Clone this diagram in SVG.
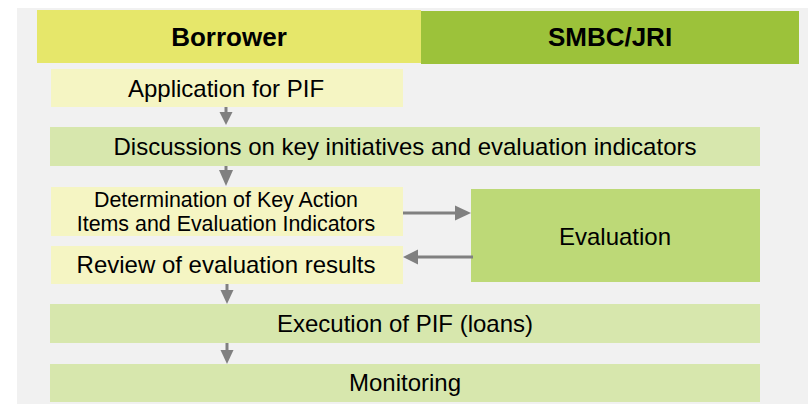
<svg xmlns="http://www.w3.org/2000/svg" width="808" height="404" viewBox="0 0 808 404">
  <defs>
    <style>
      .t { font-family: "Liberation Sans", Arial, sans-serif; fill: #000; text-anchor: middle; }
      .h { font-size: 26px; font-weight: bold; }
      .m { font-size: 24px; }
      .s { font-size: 21.4px; }
      .yl { fill: #f5f5c3; }
      .gl { fill: #d7e7ad; }
      .ln { stroke: #808080; stroke-width: 3; fill: none; }
      .ah { fill: #808080; }
    </style>
  </defs>
  <rect x="0" y="0" width="808" height="404" fill="#ffffff"/>
  <rect x="17" y="8" width="791" height="396" fill="#f1f1f1"/>

  <g id="header-borrower">
    <rect x="37" y="10" width="384" height="53" fill="#e6e76a"/>
    <text class="t h" x="229" y="46">Borrower</text>
  </g>
  <g id="header-smbc">
    <rect x="421" y="11" width="378" height="53" fill="#9cc23a"/>
    <text class="t h" x="610" y="46">SMBC/JRI</text>
  </g>

  <g id="application">
    <rect class="yl" x="51" y="69" width="352" height="38"/>
    <text class="t m" x="226" y="97">Application for PIF</text>
  </g>
  <g id="discussions">
    <rect class="gl" x="50" y="127" width="710" height="39"/>
    <text class="t m" x="405" y="155">Discussions on key initiatives and evaluation indicators</text>
  </g>
  <g id="determination">
    <rect class="yl" x="51" y="187" width="352" height="49"/>
    <text class="t s" x="226" y="207">Determination of Key Action</text>
    <text class="t s" x="226" y="231">Items and Evaluation Indicators</text>
  </g>
  <g id="review">
    <rect class="yl" x="51" y="246" width="352" height="38"/>
    <text class="t m" x="226" y="273">Review of evaluation results</text>
  </g>
  <g id="evaluation">
    <rect x="471" y="189" width="289" height="93" fill="#bdd977"/>
    <text class="t m" x="615" y="245">Evaluation</text>
  </g>
  <g id="execution">
    <rect class="gl" x="50" y="304" width="710" height="39"/>
    <text class="t m" x="405" y="332">Execution of PIF (loans)</text>
  </g>
  <g id="monitoring">
    <rect class="gl" x="50" y="364" width="710" height="38"/>
    <text class="t m" x="405" y="391">Monitoring</text>
  </g>

  <g id="connectors">
    <line class="ln" x1="226" y1="107" x2="226" y2="113"/>
    <polygon class="ah" points="219.5,112 232.5,112 226,125"/>
    <line class="ln" x1="226" y1="166" x2="226" y2="171"/>
    <polygon class="ah" points="219,170 233,170 226,186"/>
    <line class="ln" x1="403" y1="213" x2="456" y2="213"/>
    <polygon class="ah" points="455,205.5 455,220.5 471,213"/>
    <line class="ln" x1="473" y1="257" x2="416" y2="257"/>
    <polygon class="ah" points="418,249.5 418,264.5 403,257"/>
    <line class="ln" x1="227" y1="284" x2="227" y2="291"/>
    <polygon class="ah" points="220.5,290 233.5,290 227,304"/>
    <line class="ln" x1="227" y1="343" x2="227" y2="351"/>
    <polygon class="ah" points="220.5,350 233.5,350 227,364"/>
  </g>
</svg>
